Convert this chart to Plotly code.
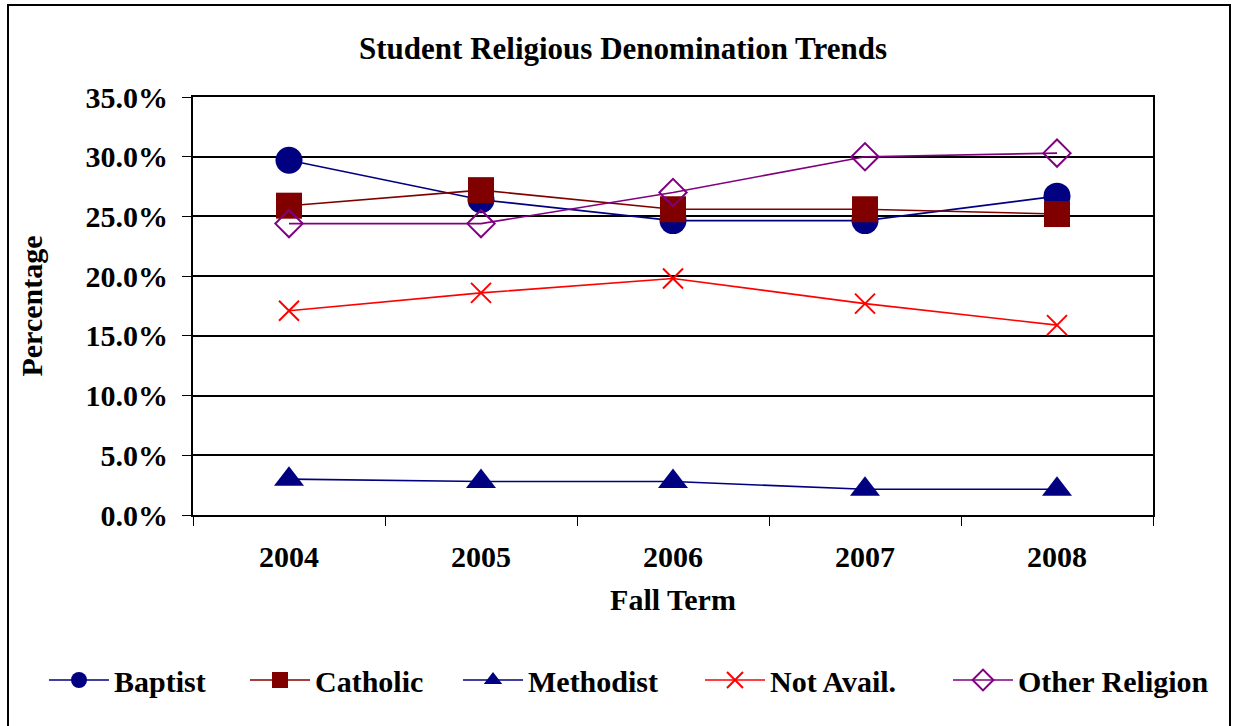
import plotly.graph_objects as go

years = ["2004", "2005", "2006", "2007", "2008"]
baptist = [0.297, 0.264, 0.2465, 0.2465, 0.267]
catholic = [0.259, 0.272, 0.256, 0.256, 0.252]
methodist = [0.030, 0.028, 0.028, 0.0215, 0.0215]
not_avail = [0.171, 0.186, 0.198, 0.177, 0.159]
other = [0.244, 0.244, 0.270, 0.300, 0.303]

FONT = "Liberation Serif, Times New Roman, serif"

series = [
    ("Baptist", baptist, "#000080", dict(symbol="circle", size=27, color="#000080")),
    ("Catholic", catholic, "#800000", dict(symbol="square", size=26, color="#800000")),
    ("Methodist", methodist, "#000080", dict(symbol="triangle-up", size=26, color="#000080")),
    ("Not Avail.", not_avail, "#FF0000", dict(symbol="x-thin-open", size=20, color="#FF0000",
                                              line=dict(color="#FF0000", width=2))),
    ("Other Religion", other, "#800080", dict(symbol="diamond-open", size=21, color="#800080",
                                              line=dict(color="#800080", width=2))),
]
# left edge (px) of each legend entry
legend_x = [44, 245, 458, 700, 948]

W, H = 1235, 726
L, R, T, B = 193, 1153, 97, 515


def bold(size):
    return dict(family=FONT, size=size, color="black", weight="bold")


fig = go.Figure()
legends = {}
for i, (name, vals, col, mk) in enumerate(series):
    lname = "legend" if i == 0 else f"legend{i + 1}"
    fig.add_trace(go.Scatter(
        x=years, y=vals, name=name, mode="lines+markers",
        line=dict(color=col, width=1.6), marker=mk, legend=lname,
    ))
    legends[lname] = dict(
        orientation="h", xref="container", yref="container",
        x=legend_x[i] / W, xanchor="left", y=1 - 680 / H, yanchor="middle",
        font=bold(30), itemwidth=60, bgcolor="rgba(0,0,0,0)",
    )

fig.update_layout(
    width=W, height=H,
    margin=dict(l=L, r=W - R, t=T, b=H - B, autoexpand=False),
    paper_bgcolor="white", plot_bgcolor="white",
    font=bold(30),
    title=dict(text="Student Religious Denomination Trends", font=bold(31),
               x=623 / W, xanchor="center", y=1 - 48 / H, yanchor="middle", yref="container"),
    showlegend=True,
    xaxis=dict(type="category", range=[-0.5, 4.5], showgrid=False, showline=True, mirror=True,
               linecolor="black", linewidth=2, ticks="outside", tickson="boundaries",
               ticklen=9, tickcolor="black", tickwidth=1, ticklabelstandoff=14,
               tickfont=bold(30),
               title=dict(text="Fall Term", font=bold(30), standoff=17)),
    yaxis=dict(range=[0, 0.35], dtick=0.05, tickformat=".1%", showgrid=True, gridcolor="black",
               gridwidth=2, showline=True, mirror=True, linecolor="black", linewidth=2,
               ticks="outside", ticklen=9, tickcolor="black", tickwidth=1, zeroline=False,
               ticklabelstandoff=8, tickfont=bold(30),
               title=dict(text="Percentage", font=bold(30), standoff=34)),
    **legends,
)

fig.add_shape(type="rect", xref="paper", yref="paper",
              x0=(8 - L) / (R - L), x1=(1230 - L) / (R - L),
              y0=(B - 760) / (B - T), y1=(B - 5) / (B - T),
              line=dict(color="black", width=2), fillcolor="rgba(0,0,0,0)", layer="below")

fig.write_html("out.html", config={"displayModeBar": False},
               post_script="document.body.style.margin='0';document.body.style.padding='0';")
